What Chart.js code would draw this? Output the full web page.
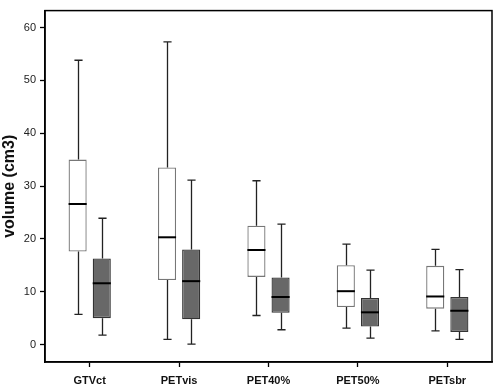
<!DOCTYPE html>
<html lang="en">
<head>
    <meta charset="UTF-8">
    <title>volume boxplot</title>
    <script src="https://cdn.jsdelivr.net/npm/chart.js"></script>
    <style>
        body { margin: 0; background: #fff; }
        #wrap { width: 496px; height: 386px; }
    </style>
</head>
<body>
    <div id="wrap">
        <canvas id="grafico" width="496" height="386"></canvas>
    </div>
<script>
// categorias e valores
const categorias = ['GTVct', 'PETvis', 'PET40%', 'PET50%', 'PETsbr'];
const yTicks = [0, 10, 20, 30, 40, 50, 60];

// serie clara (caixa branca)
const brancoMin = [5.7, 1.0, 5.5, 3.1, 2.6];
const brancoQ1  = [17.6, 12.2, 12.8, 7.1, 6.8];
const brancoMed = [26.6, 20.3, 17.9, 10.1, 9.1];
const brancoQ3  = [35.0, 33.5, 22.5, 15.0, 14.9];
const brancoMax = [53.8, 57.3, 31.0, 19.0, 18.0];

// serie escura (caixa cinza)
const cinzaMin = [1.8, 0.1, 2.8, 1.2, 1.0];
const cinzaQ1  = [5.0, 4.8, 6.0, 3.4, 2.4];
const cinzaMed = [11.6, 12.0, 9.0, 6.1, 6.4];
const cinzaQ3  = [16.3, 18.0, 12.7, 8.8, 9.0];
const cinzaMax = [23.9, 31.1, 22.8, 14.1, 14.2];

const extras = [
    { min: brancoMin, med: brancoMed, max: brancoMax },
    { min: cinzaMin, med: cinzaMed, max: cinzaMax }
];

// desenha bigodes, medianas e moldura
const pluginBoxplot = {
    id: 'boxplot',
    afterDatasetsDraw(chart) {
        const ctx = chart.ctx;
        const y = chart.scales.y;
        ctx.save();
        extras.forEach((ex, i) => {
            const meta = chart.getDatasetMeta(i);
            const q1 = i === 0 ? brancoQ1 : cinzaQ1;
            const q3 = i === 0 ? brancoQ3 : cinzaQ3;
            meta.data.forEach((bar, j) => {
                const x = Math.round(bar.x) + 0.5;
                const w = bar.width;
                const cap = w * 0.45;
                ctx.strokeStyle = '#222';
                ctx.lineWidth = 1.3;
                ctx.beginPath();
                ctx.moveTo(x, y.getPixelForValue(q3[j]));
                ctx.lineTo(x, y.getPixelForValue(ex.max[j]));
                ctx.moveTo(x - cap / 2, y.getPixelForValue(ex.max[j]));
                ctx.lineTo(x + cap / 2, y.getPixelForValue(ex.max[j]));
                ctx.moveTo(x, y.getPixelForValue(q1[j]));
                ctx.lineTo(x, y.getPixelForValue(ex.min[j]));
                ctx.moveTo(x - cap / 2, y.getPixelForValue(ex.min[j]));
                ctx.lineTo(x + cap / 2, y.getPixelForValue(ex.min[j]));
                ctx.stroke();
                // mediana
                ctx.strokeStyle = '#000';
                ctx.lineWidth = 2;
                ctx.beginPath();
                ctx.moveTo(bar.x - w / 2, y.getPixelForValue(ex.med[j]));
                ctx.lineTo(bar.x + w / 2, y.getPixelForValue(ex.med[j]));
                ctx.stroke();
            });
        });
        const a = chart.chartArea;
        ctx.strokeStyle = '#000';
        ctx.lineWidth = 1.5;
        ctx.strokeRect(a.left, a.top, a.right - a.left, a.bottom - a.top);
        ctx.restore();
    }
};

const dados = {
    labels: categorias,
    datasets: [
        {
            label: 'branco',
            data: brancoQ1.map((v, i) => [v, brancoQ3[i]]),
            backgroundColor: '#ffffff',
            borderColor: '#777',
            borderWidth: 1.3,
            borderSkipped: false,
            categoryPercentage: 0.54,
            barPercentage: 0.75
        },
        {
            label: 'cinza',
            data: cinzaQ1.map((v, i) => [v, cinzaQ3[i]]),
            backgroundColor: '#686868',
            borderColor: '#333',
            borderWidth: 1.3,
            borderSkipped: false,
            categoryPercentage: 0.54,
            barPercentage: 0.75
        }
    ]
};

const config = {
    type: 'bar',
    data: dados,
    plugins: [pluginBoxplot],
    options: {
        responsive: false,
        animation: false,
        layout: { padding: { top: 1, right: 4, left: 0, bottom: 0 } },
        plugins: {
            legend: { display: false },
            tooltip: { enabled: false }
        },
        scales: {
            x: {
                afterFit(scale) { scale.height = 24; },
                grid: { offset: false, drawOnChartArea: false, tickLength: 5, color: '#000', tickWidth: 1.3 },
                border: { color: '#000', width: 1.5 },
                ticks: {
                    color: '#111',
                    padding: 7,
                    font: { family: 'Liberation Sans, Arial, sans-serif', size: 11, weight: 'bold' }
                }
            },
            y: {
                min: -3.3,
                max: 63.2,
                afterFit(scale) { scale.width = 45; },
                afterBuildTicks(scale) { scale.ticks = yTicks.map(v => ({ value: v })); },
                grid: { drawOnChartArea: false, tickLength: 5, color: '#000', tickWidth: 1.3 },
                border: { color: '#000', width: 1.5 },
                ticks: {
                    color: '#222',
                    padding: 4,
                    font: { family: 'Liberation Sans, Arial, sans-serif', size: 11 }
                },
                title: {
                    display: true,
                    text: 'volume (cm3)',
                    color: '#111',
                    padding: { top: 0, bottom: 0 },
                    font: { family: 'Liberation Sans, Arial, sans-serif', size: 16, weight: 'bold' }
                }
            }
        }
    }
};

let meuGrafico = new Chart(document.getElementById('grafico'), config);
</script>
</body>
</html>
